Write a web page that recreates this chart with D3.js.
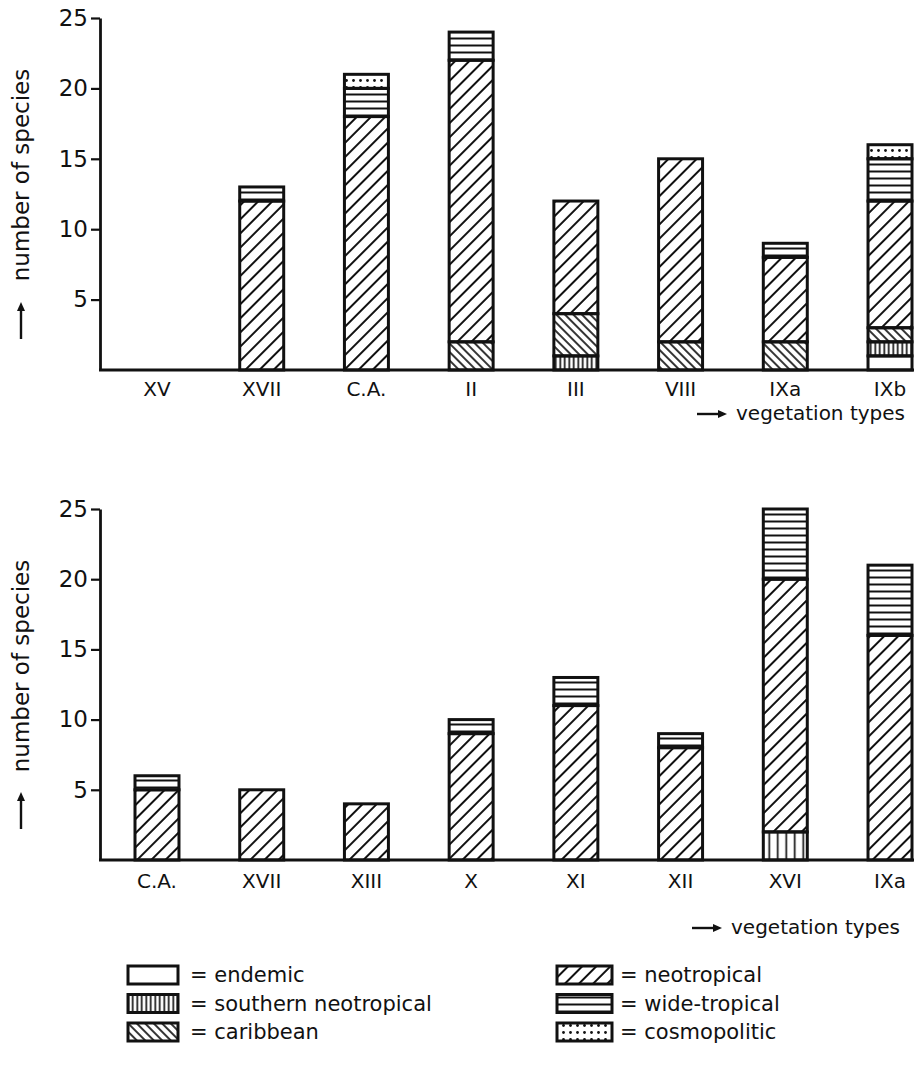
<!DOCTYPE html>
<html>
<head>
<meta charset="utf-8">
<script src="https://cdn.jsdelivr.net/npm/d3@7"></script>
<style>
  body { margin: 0; background: #fff; }
  svg { display: block; }
  text { font-family: "DejaVu Sans", sans-serif; fill: #111; }
</style>
</head>
<body>
<svg id="vis" width="920" height="1071"></svg>
<script>
// species counts per vegetation type
const groups = ["endemic", "southern neotropical", "caribbean", "neotropical", "wide-tropical", "cosmopolitic"];

const typesTop = ["XV", "XVII", "C.A.", "II", "III", "VIII", "IXa", "IXb"];
const endemicTop     = [0, 0, 0, 0, 0, 0, 0, 1];
const southernTop    = [0, 0, 0, 0, 1, 0, 0, 1];
const caribbeanTop   = [0, 0, 0, 2, 3, 2, 2, 1];
const neotropicalTop = [0, 12, 18, 20, 8, 13, 6, 9];
const wideTop        = [0, 1, 2, 2, 0, 0, 1, 3];
const cosmoTop       = [0, 0, 1, 0, 0, 0, 0, 1];

const typesBottom = ["C.A.", "XVII", "XIII", "X", "XI", "XII", "XVI", "IXa"];
const endemicBottom     = [0, 0, 0, 0, 0, 0, 0, 0];
const southernBottom    = [0, 0, 0, 0, 0, 0, 2, 0];
const caribbeanBottom   = [0, 0, 0, 0, 0, 0, 0, 0];
const neotropicalBottom = [5, 5, 4, 9, 11, 8, 18, 16];
const wideBottom        = [1, 0, 0, 1, 2, 1, 5, 5];
const cosmoBottom       = [0, 0, 0, 0, 0, 0, 0, 0];

const yTicks = [5, 10, 15, 20, 25];

const svg = d3.select("#vis");
const defs = svg.append("defs");

// hatching patterns, one set per panel
function makePatterns(suffix, vstep) {
    defs.append("pattern").attr("id", "neo" + suffix)
        .attr("patternUnits", "userSpaceOnUse").attr("width", 10).attr("height", 10)
        .attr("patternTransform", "rotate(45)")
        .append("line").attr("x1", 5).attr("x2", 5).attr("y1", 0).attr("y2", 10)
        .attr("stroke", "#111").attr("stroke-width", 2);

    defs.append("pattern").attr("id", "car" + suffix)
        .attr("patternUnits", "userSpaceOnUse").attr("width", 6).attr("height", 6)
        .attr("patternTransform", "rotate(-45)")
        .append("line").attr("x1", 3).attr("x2", 3).attr("y1", 0).attr("y2", 6)
        .attr("stroke", "#111").attr("stroke-width", 1.7);

    defs.append("pattern").attr("id", "sou" + suffix)
        .attr("patternUnits", "userSpaceOnUse").attr("width", vstep).attr("height", 10)
        .append("line").attr("x1", vstep / 2).attr("x2", vstep / 2).attr("y1", 0).attr("y2", 10)
        .attr("stroke", "#111").attr("stroke-width", 1.7);

    defs.append("pattern").attr("id", "wid" + suffix)
        .attr("patternUnits", "userSpaceOnUse").attr("width", 10).attr("height", 7)
        .append("line").attr("x1", 0).attr("x2", 10).attr("y1", 3.5).attr("y2", 3.5)
        .attr("stroke", "#111").attr("stroke-width", 2);

    var cos = defs.append("pattern").attr("id", "cos" + suffix)
        .attr("patternUnits", "userSpaceOnUse").attr("width", 7).attr("height", 7);
    cos.append("circle").attr("cx", 3.5).attr("cy", 3.5).attr("r", 1.4).attr("fill", "#111");
}
makePatterns("T", 4.5);
makePatterns("B", 8.5);

function fillFor(key, suffix) {
    if (key === "endemic") return "#fff";
    var ids = { "southern neotropical": "sou", "caribbean": "car", "neotropical": "neo",
                "wide-tropical": "wid", "cosmopolitic": "cos" };
    return "url(#" + ids[key] + suffix + ")";
}

function arrow(g, x1, y1, x2, y2) {
    var ang = Math.atan2(y2 - y1, x2 - x1);
    var len = 9, w = 4;
    g.append("line").attr("x1", x1).attr("y1", y1)
        .attr("x2", x2 - Math.cos(ang) * len * 0.6).attr("y2", y2 - Math.sin(ang) * len * 0.6)
        .attr("stroke", "#111").attr("stroke-width", 2.4);
    var bx = x2 - Math.cos(ang) * len, by = y2 - Math.sin(ang) * len;
    g.append("path")
        .attr("d", "M" + x2 + "," + y2 +
            "L" + (bx - Math.sin(ang) * w) + "," + (by + Math.cos(ang) * w) +
            "L" + (bx + Math.sin(ang) * w) + "," + (by - Math.cos(ang) * w) + "Z")
        .attr("fill", "#111");
}

function panel(opts) {
    var g = svg.append("g");
    var rows = opts.types.map(function (t, i) {
        var r = { type: t };
        groups.forEach(function (k, j) { r[k] = opts.series[j][i]; });
        return r;
    });

    var x = d3.scaleBand().domain(opts.types).range([135, 912])
        .paddingInner(0.58).paddingOuter(0);
    var y = d3.scaleLinear().domain([0, 25]).range([opts.base, opts.top]);

    var stacked = d3.stack().keys(groups)(rows);

    g.selectAll(".layer")
        .data(stacked)
        .enter().append("g")
        .attr("class", "layer")
        .each(function (layer) {
            d3.select(this).selectAll("rect")
                .data(layer.filter(function (d) { return d[1] > d[0]; }))
                .enter().append("rect")
                .attr("x", function (d) { return x(d.data.type); })
                .attr("width", x.bandwidth())
                .attr("y", function (d) { return y(d[1]); })
                .attr("height", function (d) { return y(d[0]) - y(d[1]); })
                .attr("fill", fillFor(layer.key, opts.suffix))
                .attr("stroke", "#111")
                .attr("stroke-width", 3);
        });

    // y axis
    var yAxis = d3.axisLeft(y).tickValues(yTicks).tickSize(9).tickSizeOuter(0).tickPadding(3);
    var ya = g.append("g").attr("transform", "translate(100,0)").call(yAxis);
    ya.select(".domain").attr("stroke", "#111").attr("stroke-width", 2.8);
    ya.selectAll(".tick line").attr("stroke", "#111").attr("stroke-width", 2.2);
    ya.selectAll(".tick text").style("font-size", "23px")
        .style("font-family", "'DejaVu Sans', sans-serif").attr("fill", "#111");

    // baseline
    g.append("line").attr("x1", 99).attr("x2", 914)
        .attr("y1", opts.base).attr("y2", opts.base)
        .attr("stroke", "#111").attr("stroke-width", 2.8);

    // category labels
    g.selectAll(".cat")
        .data(opts.types)
        .enter().append("text")
        .attr("class", "cat")
        .attr("x", function (d) { return x(d) + x.bandwidth() / 2; })
        .attr("y", opts.base + opts.catDy)
        .attr("text-anchor", "middle")
        .style("font-size", "20px")
        .text(function (d) { return d; });

    // y label with arrow
    g.append("text")
        .attr("transform", "translate(29," + (opts.top + 157) + ") rotate(-90)")
        .attr("text-anchor", "middle")
        .style("font-size", "23px")
        .text("number of species");
    arrow(g, 21, opts.base - 31, 21, opts.base - 68);

    // x label with arrow
    arrow(g, opts.xlabX - 39, opts.base + opts.labDy - 6, opts.xlabX - 9, opts.base + opts.labDy - 6);
    g.append("text")
        .attr("x", opts.xlabX).attr("y", opts.base + opts.labDy)
        .style("font-size", "20px")
        .text("vegetation types");
}

panel({
    types: typesTop,
    series: [endemicTop, southernTop, caribbeanTop, neotropicalTop, wideTop, cosmoTop],
    base: 370, top: 18, suffix: "T", xlabX: 736, catDy: 26, labDy: 50
});

panel({
    types: typesBottom,
    series: [endemicBottom, southernBottom, caribbeanBottom, neotropicalBottom, wideBottom, cosmoBottom],
    base: 860, top: 509, suffix: "B", xlabX: 731, catDy: 28, labDy: 74
});

// legend
var legendLeft = ["endemic", "southern neotropical", "caribbean"];
var legendRight = ["neotropical", "wide-tropical", "cosmopolitic"];
var lg = svg.append("g");
function legendColumn(keys, bx, bw, tx) {
    keys.forEach(function (k, i) {
        var cy = 975 + i * 28.5;
        lg.append("rect").attr("x", bx).attr("y", cy - 9).attr("width", bw).attr("height", 18)
            .attr("fill", fillFor(k, "T")).attr("stroke", "#111").attr("stroke-width", 3);
        lg.append("text").attr("x", tx).attr("y", cy + 7)
            .style("font-size", "21px")
            .text("= " + k);
    });
}
legendColumn(legendLeft, 128, 50, 190);
legendColumn(legendRight, 557, 55, 620);
</script>
</body>
</html>
